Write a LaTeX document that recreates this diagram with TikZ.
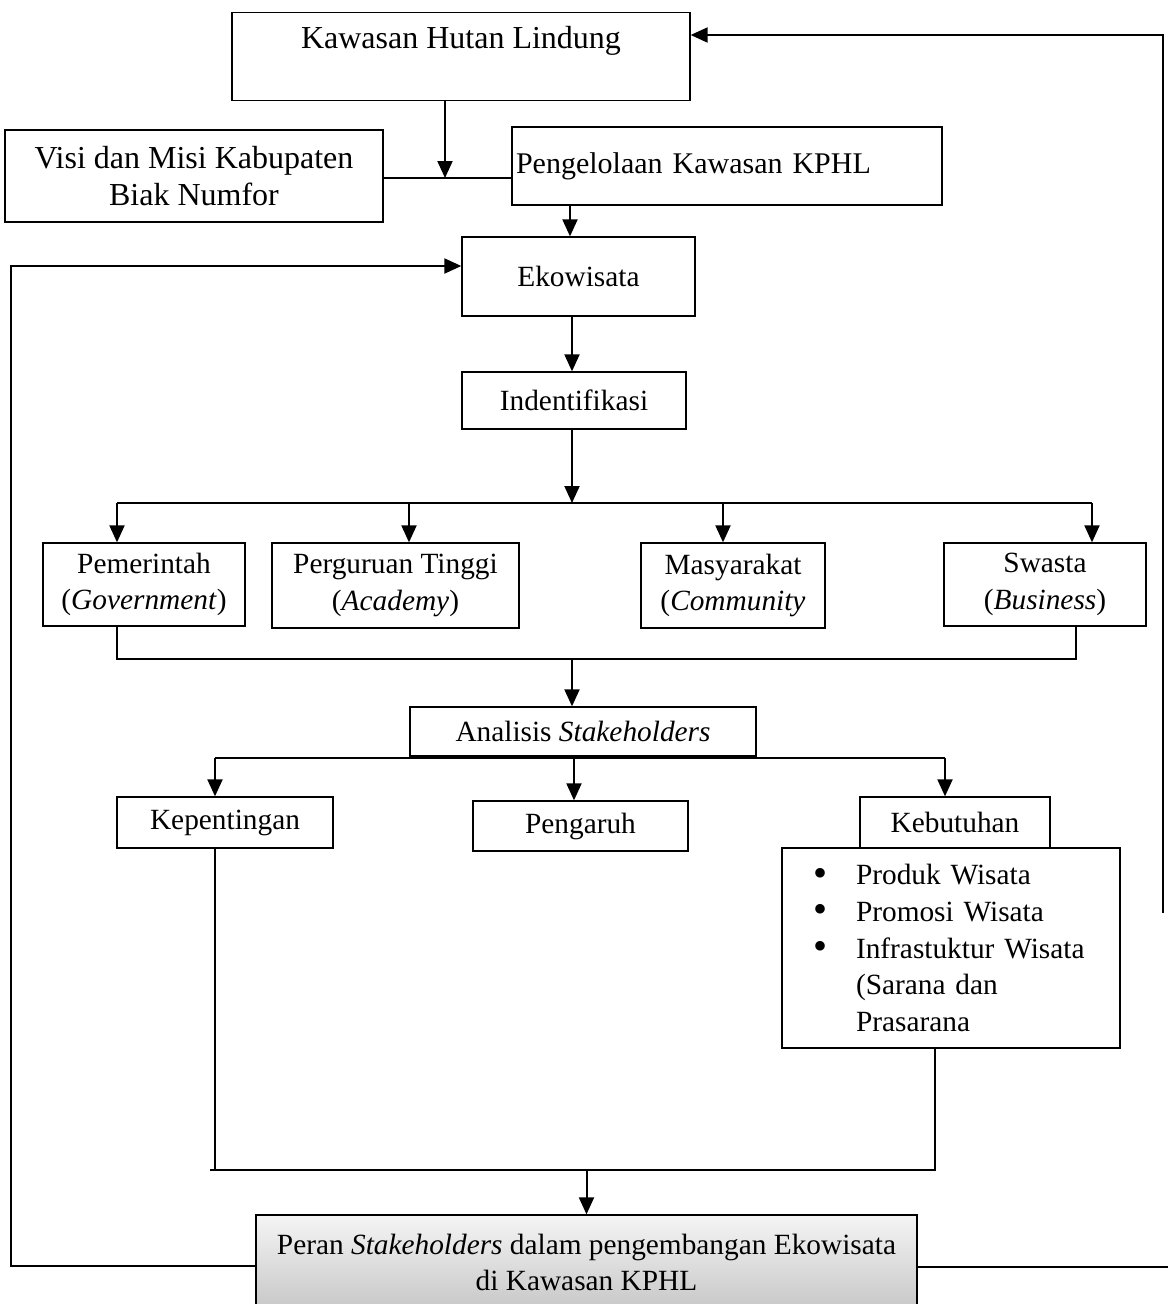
\documentclass[tikz,border=0pt]{standalone}
\usepackage{fontspec}
\setmainfont{Liberation Serif}
\usetikzlibrary{arrows.meta}
\newdimen\pxu \pxu=0.75pt
\newcommand\bulitem{\makebox[44\pxu][l]{\hspace{1\pxu}\raisebox{-1pt}{\fontsize{30}{27.5}\selectfont\textbullet}}}
\begin{document}
\begin{tikzpicture}[x=0.75pt,y=-0.75pt,
  box/.style={draw, line width=0.975pt, inner sep=2.25pt, align=center,
    font=\fontsize{22}{27.5}\selectfont},
  bigtext/.style={font=\fontsize{24}{27.75}\selectfont},
  conn/.style={line width=1.5pt},
  arr/.style={conn, -{Triangle[length=12.75pt,width=11.25pt]}}]
\useasboundingbox (0,0) rectangle (1168,1304);

% boxes
\node[box, bigtext, anchor=north, inner sep=0pt, minimum width=458\pxu,
      text height=36\pxu, text depth=52\pxu] (kaw) at (461,12) {Kawasan Hutan Lindung};
\node[box, bigtext, minimum width=378\pxu, minimum height=92\pxu] (visi) at (194,176)
  {Visi dan Misi Kabupaten\\Biak Numfor};
\node[box, minimum width=430\pxu, minimum height=78\pxu, inner xsep=4\pxu,
      text width=422\pxu, align=left, font=\fontsize{22.5}{27.5}\selectfont] (peng) at (727,166)
  {Pengelolaan Kawasan KPHL};
\node[box, minimum width=233\pxu, minimum height=79\pxu] (eko) at (578.5,276.5) {Ekowisata};
\node[box, minimum width=224\pxu, minimum height=57\pxu] (ind) at (574,400.5) {Indentifikasi};
\node[box, minimum width=202\pxu, minimum height=83\pxu] (pem) at (144,584.5)
  {Pemerintah\\(\textit{Government})};
\node[box, minimum width=247\pxu, minimum height=85\pxu] (per) at (395.5,585.5)
  {Perguruan Tinggi\\(\textit{Academy})};
\node[box, minimum width=184\pxu, minimum height=85\pxu] (mas) at (733,585.5)
  {Masyarakat\\(\textit{Community}};
\node[box, minimum width=202\pxu, minimum height=83\pxu] (swa) at (1045,584.5)
  {Swasta\\(\textit{Business})};
\node[box, minimum width=346\pxu, minimum height=49\pxu] (ana) at (583,731.5)
  {Analisis \textit{Stakeholders}};
\node[box, minimum width=216\pxu, minimum height=51\pxu] (kep) at (225,822.5) {Kepentingan};
\node[box, minimum width=215\pxu, minimum height=50\pxu] (pgr) at (580.5,826) {Pengaruh};
\node[box, minimum width=190\pxu, minimum height=51\pxu] (keb) at (955,822.5) {Kebutuhan};
\node[box, minimum width=338\pxu, minimum height=200\pxu, inner xsep=30\pxu,
      text width=278\pxu, align=left] (list) at (951,948)
  {\bulitem Produk Wisata\\
   \bulitem Promosi Wisata\\
   \bulitem Infrastuktur Wisata\\
   \hspace*{44\pxu}(Sarana dan\\
   \hspace*{44\pxu}Prasarana};
\node[box, minimum width=661\pxu, minimum height=95\pxu,
      top color=white!96!black, bottom color=black!22] (peran) at (586.5,1262.5)
  {Peran \textit{Stakeholders} dalam pengembangan Ekowisata\\di Kawasan KPHL};

% coordinates
\coordinate (jn) at (445,178);
\coordinate (c570) at (570,0);
\coordinate (c572) at (572,0);
\coordinate (b1) at (117,503);
\coordinate (b2) at (409,503);
\coordinate (b3) at (723,503);
\coordinate (b4) at (1092,503);
\coordinate (m1) at (117,659);
\coordinate (m2) at (1076,659);
\coordinate (k1) at (215,758);
\coordinate (k2) at (574,758);
\coordinate (k3) at (945,758);
\coordinate (n1) at (215,1170);
\coordinate (n0) at (210,1170);
\coordinate (n2) at (935,1170);
\coordinate (l1) at (11,1266);
\coordinate (l2) at (11,266);
\coordinate (r0) at (1168,1267);
\coordinate (r1) at (1163,913);
\coordinate (r2) at (1163,35);

% connectors
\draw[arr] (kaw.south -| jn) -- (jn);
\draw[conn] (visi.east |- jn) -- (peng.west |- jn);
\draw[arr] (peng.south -| c570) -- (eko.north -| c570);
\draw[arr] (eko.south -| c572) -- (ind.north -| c572);
\draw[arr] (ind.south -| c572) -- (c572 |- b1);
\draw[conn] (b1) -- (b4);
\draw[arr] (b1) -- (pem.north -| b1);
\draw[arr] (b2) -- (per.north -| b2);
\draw[arr] (b3) -- (mas.north -| b3);
\draw[arr] (b4) -- (swa.north -| b4);
\draw[conn] (pem.south -| m1) -- (m1) -- (m2) -- (swa.south -| m2);
\draw[arr] (c572 |- m1) -- (ana.north -| c572);
\draw[conn] (k1) -- (k3);
\draw[arr] (k1) -- (kep.north -| k1);
\draw[arr] (k2) -- (pgr.north -| k2);
\draw[arr] (k3) -- (keb.north -| k3);
\draw[conn] (kep.south -| n1) -- (n1);
\draw[conn] (n0) -- (n2) -- (list.south -| n2);
\draw[arr] (peran.north |- n1) -- (peran.north);
\draw[arr] (peran.west |- l1) -- (l1) -- (l2) -- (eko.west |- l2);
\draw[conn] (peran.east |- r0) -- (r0);
\draw[arr] (r1) -- (r2) -- (kaw.east |- r2);
\end{tikzpicture}
\end{document}
